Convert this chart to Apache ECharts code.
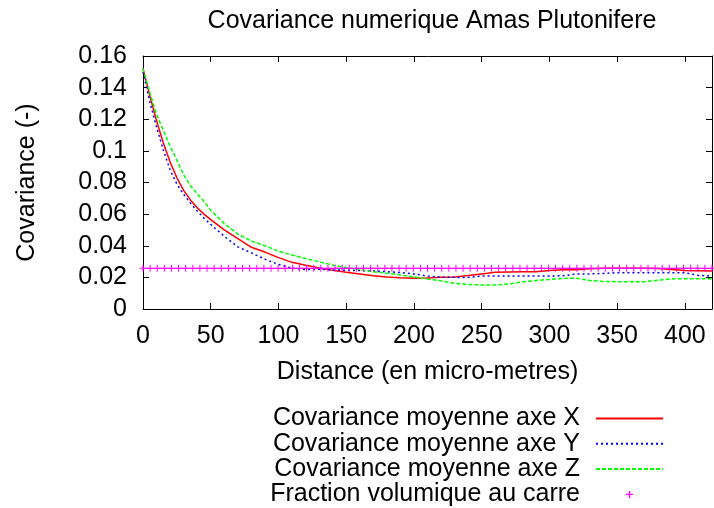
<!DOCTYPE html>
<html>
<head>
<meta charset="utf-8">
<script src="https://cdn.jsdelivr.net/npm/echarts@6/dist/echarts.min.js"></script>
<style>
  html, body { margin: 0; padding: 0; background: #fff; }
  #chart { width: 714px; height: 508px; }
</style>
</head>
<body>
<div id="chart"></div>
<script>
// Distances (micro-metres) at which the mean covariances are sampled
const distances = [0, 5, 10, 15, 20, 25, 30, 35, 40, 45, 50, 60, 70, 80, 90, 100,
  110, 120, 130, 140, 150, 160, 170, 180, 190, 200, 210, 220, 230, 240, 250, 260,
  270, 280, 290, 300, 310, 320, 330, 340, 350, 360, 370, 380, 390, 400, 410, 420];

// Mean covariance along X
const covX = [0.152, 0.135, 0.119, 0.105, 0.093, 0.083, 0.075, 0.069, 0.064, 0.060,
  0.0565, 0.050, 0.0445, 0.039, 0.036, 0.0325, 0.0295, 0.0277, 0.026, 0.0245,
  0.0233, 0.0222, 0.021, 0.0203, 0.0198, 0.0195, 0.0196, 0.0201, 0.0203, 0.0212,
  0.0222, 0.0232, 0.0234, 0.0235, 0.0236, 0.0243, 0.0248, 0.0249, 0.0255, 0.0258,
  0.0258, 0.0258, 0.0257, 0.0256, 0.025, 0.0243, 0.0242, 0.0241];

// Mean covariance along Y
const covY = [0.150, 0.131, 0.115, 0.1005, 0.088, 0.079, 0.0725, 0.067, 0.062, 0.0575,
  0.0535, 0.046, 0.0393, 0.0355, 0.0315, 0.0282, 0.0258, 0.0250, 0.0251, 0.0247,
  0.0245, 0.0243, 0.0241, 0.0236, 0.023, 0.0222, 0.0208, 0.0201, 0.0200, 0.0200,
  0.0209, 0.0209, 0.0209, 0.0209, 0.0209, 0.0209, 0.0210, 0.0221, 0.0222, 0.0225,
  0.0230, 0.0230, 0.0230, 0.0230, 0.0230, 0.0230, 0.0212, 0.0209];

// Mean covariance along Z
const covZ = [0.152, 0.137, 0.123, 0.113, 0.103, 0.094, 0.085, 0.078, 0.073, 0.068,
  0.0625, 0.054, 0.0474, 0.043, 0.040, 0.0365, 0.0342, 0.032, 0.0298, 0.0278,
  0.0262, 0.0249, 0.0236, 0.0226, 0.0215, 0.0203, 0.019, 0.0178, 0.0162, 0.0155,
  0.0152, 0.0152, 0.0158, 0.0172, 0.018, 0.0187, 0.0194, 0.0194, 0.018, 0.0174,
  0.0173, 0.0173, 0.0173, 0.0182, 0.019, 0.0192, 0.0192, 0.0192];

// Squared volume fraction, plotted as points on the sampling grid
const fractionDistances = [0, 5.25, 10.5, 15.75, 21, 26.25, 31.5, 36.75, 42, 47.25,
  52.5, 57.75, 63, 68.25, 73.5, 78.75, 84, 89.25, 94.5, 99.75, 105, 110.25, 115.5,
  120.75, 126, 131.25, 136.5, 141.75, 147, 152.25, 157.5, 162.75, 168, 173.25, 178.5,
  183.75, 189, 194.25, 199.5, 204.75, 210, 215.25, 220.5, 225.75, 231, 236.25, 241.5,
  246.75, 252, 257.25, 262.5, 267.75, 273, 278.25, 283.5, 288.75, 294, 299.25, 304.5,
  309.75, 315, 320.25, 325.5, 330.75, 336, 341.25, 346.5, 351.75, 357, 362.25, 367.5,
  372.75, 378, 383.25, 388.5, 393.75, 399, 404.25, 409.5, 414.75, 420];
const fractionSquared = 0.0257;

const seriesNames = [
  'Covariance moyenne axe X',
  'Covariance moyenne axe Y',
  'Covariance moyenne axe Z',
  'Fraction volumique au carre'
];

const FONT = '"Liberation Sans", Arial, Helvetica, sans-serif';
const FS = 25;
const PLUS = 'path://M3,0H4V3H7V4H4V7H3V4H0V3H3Z';
const LEGEND_PLUS = 'path://M2.8,0H4.2V2.8H7V4.2H4.2V7H2.8V4.2H0V2.8H2.8Z';
const NO_FILL = 'rgba(0,0,0,0)';
const MAGENTA = '#ff00ff';

const pairs = (xs, ys) => xs.map((x, i) => [x, ys[i]]);

const chart = echarts.init(document.getElementById('chart'), null, { renderer: 'canvas' });

const xCommon = {
  type: 'value', min: 0, max: 420, interval: 50,
  splitLine: { show: false },
  axisLine: { show: true, onZero: false, lineStyle: { color: '#000', width: 1 } },
  axisTick: { show: true, inside: true, length: 6, lineStyle: { color: '#000' } }
};
const yCommon = {
  type: 'value', min: 0, max: 0.16, interval: 0.02,
  splitLine: { show: false },
  axisLine: { show: true, onZero: false, lineStyle: { color: '#000', width: 1 } },
  axisTick: { show: true, inside: true, length: 6, lineStyle: { color: '#000' } }
};

chart.setOption({
  animation: false,
  backgroundColor: '#fff',
  textStyle: { fontFamily: FONT, color: '#000' },
  title: {
    text: 'Covariance numerique Amas Plutonifere',
    left: 427, textAlign: 'center', top: 4,
    textStyle: { fontFamily: FONT, fontSize: FS, fontWeight: 'normal', color: '#000' }
  },
  grid: { left: 143, right: 2, top: 56, bottom: 199, containLabel: false },
  xAxis: [
    Object.assign({}, xCommon, {
      position: 'bottom',
      name: 'Distance (en micro-metres)',
      nameLocation: 'middle', nameGap: 51,
      nameTextStyle: { fontFamily: FONT, fontSize: FS, color: '#000' },
      axisLabel: { show: true, margin: 15, showMaxLabel: false,
        fontFamily: FONT, fontSize: FS, color: '#000' }
    }),
    Object.assign({}, xCommon, { position: 'top', axisLabel: { show: false } })
  ],
  yAxis: [
    Object.assign({}, yCommon, {
      position: 'left',
      name: 'Covariance (-)',
      nameLocation: 'middle', nameGap: 103, nameRotate: 90,
      nameTextStyle: { fontFamily: FONT, fontSize: FS, color: '#000' },
      axisLabel: { show: true, margin: 16,
        fontFamily: FONT, fontSize: FS, color: '#000' }
    }),
    Object.assign({}, yCommon, { position: 'right', axisLabel: { show: false } })
  ],
  legend: {
    orient: 'vertical', align: 'right',
    right: 50, top: 406, padding: 0,
    itemWidth: 67, itemHeight: 7, itemGap: 0.3,
    selectedMode: false,
    textStyle: { fontFamily: FONT, fontSize: FS, lineHeight: 25, color: '#000',
      padding: [0, 11, 0, 0] },
    data: [
      { name: seriesNames[0] },
      { name: seriesNames[1] },
      { name: seriesNames[2] },
      { name: seriesNames[3], icon: LEGEND_PLUS,
        itemStyle: { color: MAGENTA, borderWidth: 0, opacity: 1 } }
    ]
  },
  series: [
    {
      name: seriesNames[0], type: 'line', symbol: 'none',
      data: pairs(distances, covX),
      lineStyle: { color: '#ff0000', width: 1.5 },
      itemStyle: { color: NO_FILL }, z: 3
    },
    {
      name: seriesNames[1], type: 'line', symbol: 'none',
      data: pairs(distances, covY),
      lineStyle: { color: '#0000ff', width: 1.5, type: [2, 3] },
      itemStyle: { color: NO_FILL }, z: 3
    },
    {
      name: seriesNames[2], type: 'line', symbol: 'none',
      data: pairs(distances, covZ),
      lineStyle: { color: '#00ff00', width: 1.5, type: [4, 2] },
      itemStyle: { color: NO_FILL }, z: 3
    },
    {
      name: seriesNames[3], type: 'line',
      data: fractionDistances.map(d => [d, fractionSquared]),
      symbol: PLUS, symbolSize: 7, symbolKeepAspect: true, showSymbol: true,
      clip: false,
      lineStyle: { color: MAGENTA, width: 1 },
      itemStyle: { color: MAGENTA }, z: 4
    }
  ]
});
</script>
</body>
</html>
